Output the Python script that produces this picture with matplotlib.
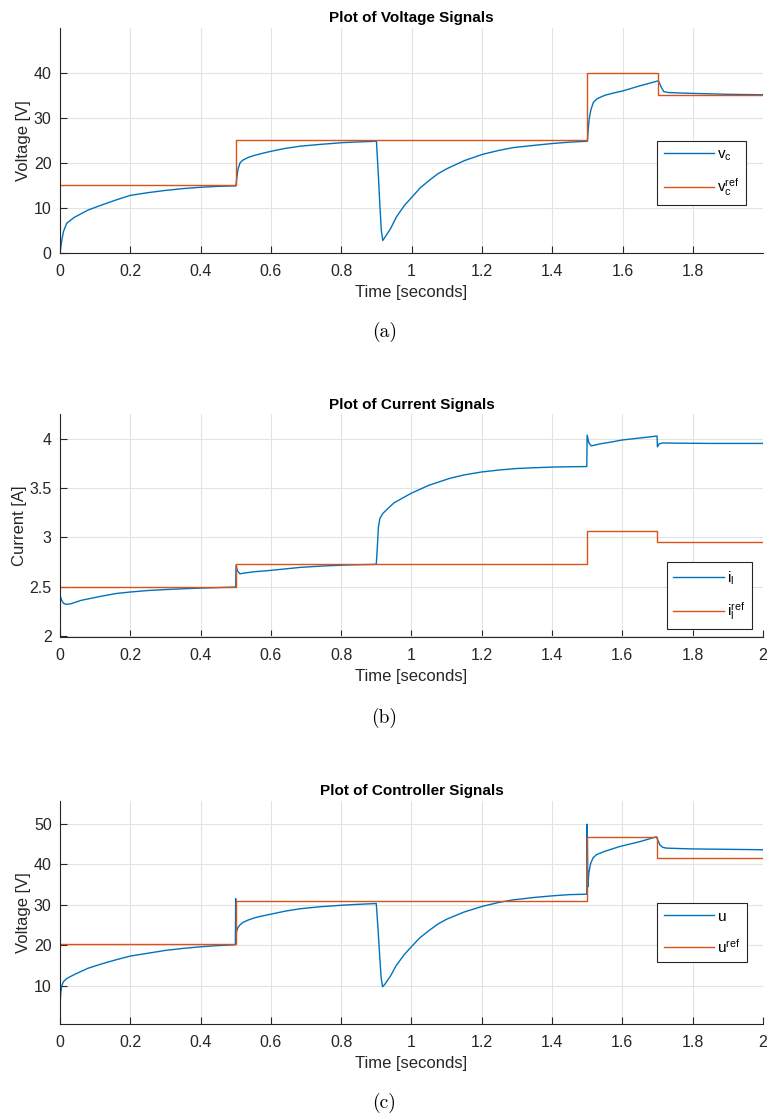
import numpy as np
import matplotlib
matplotlib.use('Agg')
import matplotlib.pyplot as plt
from matplotlib.ticker import FuncFormatter

plt.rcParams['font.family'] = ['Liberation Sans', 'DejaVu Sans']
plt.rcParams['mathtext.fontset'] = 'custom'
plt.rcParams['mathtext.rm'] = 'Liberation Sans'

BLUE = '#0072BD'
ORANGE = '#D95319'
DARK = '#262626'

# reference steps (same switch times for all three signals)
ref_t = [0, 0.5, 1.5, 1.7, 2.0]
vc_ref = [15, 25, 40, 35, 35]
il_ref = [2.5, 2.726, 3.07, 2.955, 2.955]
u_ref = [20.4, 30.8, 46.7, 41.5, 41.5]

vc_pts = [(0, 0), (0.002, 1.2), (0.005, 2.8), (0.01, 4.8), (0.019, 6.6), (0.04, 7.9),
          (0.08, 9.55), (0.12, 10.7), (0.16, 11.8), (0.2, 12.8), (0.25, 13.4), (0.3, 13.9),
          (0.35, 14.3), (0.4, 14.6), (0.45, 14.8), (0.5, 14.9), (0.502, 16.0), (0.506, 18.5),
          (0.512, 20.0), (0.52, 20.6), (0.535, 21.2), (0.555, 21.7), (0.58, 22.2), (0.602, 22.6),
          (0.64, 23.2), (0.683, 23.7), (0.74, 24.1), (0.806, 24.5), (0.85, 24.65), (0.9, 24.8),
          (0.905, 18.0), (0.91, 10.3), (0.914, 5.0), (0.918, 2.8), (0.925, 3.6), (0.94, 5.4),
          (0.957, 8.05), (0.98, 10.6), (1.002, 12.5), (1.025, 14.5), (1.053, 16.3), (1.075, 17.6),
          (1.1, 18.7), (1.15, 20.5), (1.202, 21.9), (1.25, 22.8), (1.29, 23.4), (1.35, 23.9),
          (1.401, 24.3), (1.45, 24.6), (1.5, 24.8), (1.502, 27.0), (1.505, 29.7), (1.51, 31.8),
          (1.517, 33.4), (1.527, 34.2), (1.55, 35.0), (1.575, 35.5), (1.603, 36.0), (1.65, 37.1),
          (1.702, 38.2), (1.706, 37.5), (1.71, 36.8), (1.717, 35.8), (1.73, 35.6), (1.76, 35.5),
          (1.802, 35.4), (1.9, 35.2), (2.0, 35.1)]

il_pts = [(0, 0), (0.001, 2.40), (0.005, 2.36), (0.01, 2.33), (0.018, 2.32), (0.03, 2.325),
          (0.06, 2.36), (0.114, 2.40), (0.16, 2.43), (0.2, 2.445), (0.25, 2.46), (0.3, 2.47),
          (0.35, 2.478), (0.4, 2.485), (0.45, 2.49), (0.5, 2.495), (0.501, 2.72), (0.505, 2.66),
          (0.512, 2.63), (0.52, 2.635), (0.55, 2.65), (0.6, 2.665), (0.683, 2.695), (0.75, 2.71),
          (0.82, 2.72), (0.9, 2.726), (0.903, 2.9), (0.906, 3.1), (0.91, 3.19), (0.918, 3.24),
          (0.929, 3.28), (0.95, 3.35), (0.975, 3.40), (1.0, 3.45), (1.05, 3.53), (1.109, 3.60),
          (1.15, 3.635), (1.2, 3.665), (1.25, 3.685), (1.3, 3.70), (1.35, 3.708), (1.404, 3.715),
          (1.45, 3.718), (1.499, 3.72), (1.5, 4.04), (1.505, 3.96), (1.512, 3.93), (1.536, 3.95),
          (1.57, 3.97), (1.6, 3.99), (1.65, 4.01), (1.699, 4.03), (1.7, 3.92), (1.705, 3.95),
          (1.715, 3.96), (1.75, 3.958), (1.85, 3.955), (2.0, 3.955)]

u_pts = [(0, 4.8), (0.002, 8.0), (0.005, 10.0), (0.01, 11.0), (0.02, 11.8), (0.04, 12.7),
         (0.08, 14.3), (0.12, 15.4), (0.16, 16.4), (0.2, 17.3), (0.25, 18.0), (0.3, 18.7),
         (0.35, 19.2), (0.4, 19.6), (0.45, 19.9), (0.499, 20.1), (0.5, 31.5), (0.501, 23.0),
         (0.506, 24.3), (0.512, 25.0), (0.52, 25.6), (0.535, 26.2), (0.555, 26.8), (0.58, 27.3),
         (0.602, 27.7), (0.64, 28.4), (0.683, 29.0), (0.74, 29.5), (0.806, 29.9), (0.85, 30.1),
         (0.9, 30.3), (0.905, 24.0), (0.91, 17.0), (0.914, 11.8), (0.918, 9.7), (0.925, 10.4),
         (0.94, 12.3), (0.957, 15.0), (0.98, 17.7), (1.002, 19.8), (1.025, 21.9), (1.053, 23.8),
         (1.075, 25.2), (1.1, 26.4), (1.15, 28.2), (1.202, 29.6), (1.25, 30.6), (1.29, 31.2),
         (1.35, 31.8), (1.401, 32.2), (1.45, 32.5), (1.499, 32.6), (1.5, 49.9), (1.502, 34.4),
         (1.505, 38.0), (1.51, 40.2), (1.517, 41.6), (1.527, 42.4), (1.55, 43.2), (1.575, 43.9),
         (1.593, 44.4), (1.65, 45.6), (1.697, 46.8), (1.702, 45.8), (1.707, 44.8), (1.715, 44.2),
         (1.725, 44.0), (1.76, 43.9), (1.8, 43.8), (1.9, 43.7), (2.0, 43.6)]

xticks_a = [0, 0.2, 0.4, 0.6, 0.8, 1.0, 1.2, 1.4, 1.6, 1.8]
xticks_bc = [0, 0.2, 0.4, 0.6, 0.8, 1.0, 1.2, 1.4, 1.6, 1.8, 2.0]

panels = [
    dict(pts=vc_pts, ref=vc_ref, title='Plot of Voltage Signals', ylabel='Voltage [V]',
         labels=[r'$\mathregular{v_c}$', r'$\mathregular{v_c^{ref}}$'],
         xticks=xticks_a, yticks=[0, 10, 20, 30, 40], ylim=(0, 49.9), xlim=(0, 1.999),
         rect=[0.078, 0.774, 0.914, 0.201], leg=(0.849, 0.50), cap='(a)', capy=0.7036),
    dict(pts=il_pts, ref=il_ref, title='Plot of Current Signals', ylabel='Current [A]',
         labels=[r'$\mathregular{i_l}$', r'$\mathregular{i_l^{ref}}$'],
         xticks=xticks_bc, yticks=[2, 2.5, 3, 3.5, 4], ylim=(1.985, 4.25), xlim=(0, 2),
         rect=[0.078, 0.431, 0.914, 0.199], leg=(0.863, 0.336), cap='(b)', capy=0.359),
    dict(pts=u_pts, ref=u_ref, title='Plot of Controller Signals', ylabel='Voltage [V]',
         labels=[r'$\mathregular{u}$', r'$\mathregular{u^{ref}}$'],
         xticks=xticks_bc, yticks=[10, 20, 30, 40, 50], ylim=(0.5, 55.7), xlim=(0, 2),
         rect=[0.078, 0.0857, 0.914, 0.1993], leg=(0.849, 0.543), cap='(c)', capy=0.0152),
]

fig = plt.figure(figsize=(7.69, 11.2), dpi=100)

for p in panels:
    ax = fig.add_axes(p['rect'])
    t, y = np.array(p['pts']).T
    ax.plot(t, y, color=BLUE, lw=1.0, label=p['labels'][0])
    ax.step(ref_t, p['ref'], where='post', color=ORANGE, lw=1.0, label=p['labels'][1])

    ax.set_xlim(*p['xlim'])
    ax.set_ylim(*p['ylim'])
    ax.set_xticks(p['xticks'])
    ax.set_yticks(p['yticks'])
    fmt = FuncFormatter(lambda v, pos: '%g' % round(v, 4))
    ax.xaxis.set_major_formatter(fmt)
    ax.yaxis.set_major_formatter(fmt)

    ax.grid(True, color='#e3e3e3', lw=0.8)
    ax.set_axisbelow(True)
    for s in ['top', 'right']:
        ax.spines[s].set_visible(False)
    for s in ['left', 'bottom']:
        ax.spines[s].set_color(DARK)
        ax.spines[s].set_linewidth(0.8)
    ax.tick_params(direction='in', length=5, width=0.8, colors=DARK, labelsize=11.5,
                   labelcolor=DARK)
    ax.tick_params(axis='x', pad=8)
    ax.tick_params(axis='y', pad=6)

    ax.set_title(p['title'], fontsize=11, fontweight='bold', color='black', pad=4)
    ax.set_xlabel('Time [seconds]', fontsize=12, color=DARK, labelpad=4)
    ax.set_ylabel(p['ylabel'], fontsize=12, color=DARK, labelpad=2)

    leg = ax.legend(loc='upper left', bbox_to_anchor=p['leg'], fontsize=11,
                    handlelength=3.3, labelspacing=0.9, borderpad=0.45, handletextpad=0.2,
                    borderaxespad=0, fancybox=False, framealpha=1, edgecolor=DARK)
    leg.get_frame().set_linewidth(0.8)

    fig.text(0.5, p['capy'], p['cap'], ha='center', va='center', fontsize=14,
             family=['cmr10', 'DejaVu Serif'])

fig.savefig('out.png', dpi=100)
